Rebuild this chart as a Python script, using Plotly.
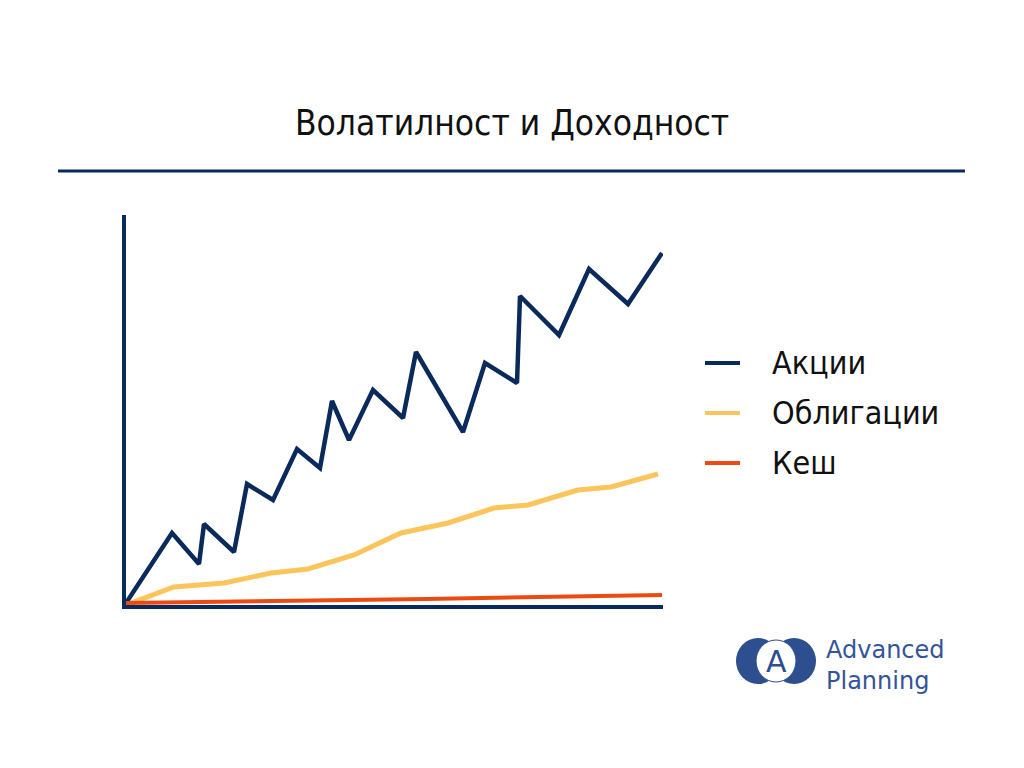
import plotly.graph_objs as go

# Data (arbitrary units)
stocks_x = [0, 46, 73, 78, 108, 121, 147, 171, 194, 206, 223, 247, 277, 290, 337, 359, 391, 394, 433, 463, 502, 536]
stocks_y = [2, 72, 41, 81, 53, 121, 105, 156, 137, 204, 165, 215, 187, 253, 173, 242, 222, 309, 270, 336, 301, 352]

bonds_x = [5, 48, 98, 145, 182, 228, 275, 322, 368, 402, 452, 485, 532]
bonds_y = [2, 18, 22, 32, 36, 50, 72, 82, 97, 100, 115, 118, 131]

cash_x = [0, 100, 300, 536]
cash_y = [2, 3, 6, 10]

names = ['Акции', 'Облигации', 'Кеш']
colors = ['#0b2a5c', '#fbc55c', '#eb4b12']

NAVY = '#0b2a5c'
FONT = "Liberation Sans Narrow, DejaVu Sans Condensed, sans-serif"

# page offset (body margin) and plot box in screen pixels
OFF = 8
L, R, T, B = 126, 663, 215, 605


def px(x):
    return (x - L) / (R - L)


def py(y):
    return (B - y) / (B - T)


fig = go.Figure()
for xs, ys, name, color, w in [(stocks_x, stocks_y, names[0], colors[0], 4.5),
                               (bonds_x, bonds_y, names[1], colors[1], 5),
                               (cash_x, cash_y, names[2], colors[2], 4)]:
    fig.add_trace(go.Scatter(x=xs, y=ys, mode='lines', name=name,
                             line=dict(color=color, width=w)))

fig.update_layout(
    width=1024, height=768,
    paper_bgcolor='white', plot_bgcolor='white',
    margin=dict(l=L - OFF, r=1024 - R + OFF, t=T - OFF, b=768 - B + OFF),
    showlegend=False,
    xaxis=dict(range=[0, 537], showgrid=False, zeroline=False, showticklabels=False,
               showline=True, linecolor=NAVY, linewidth=4, ticks=''),
    yaxis=dict(range=[0, 390], showgrid=False, zeroline=False, showticklabels=False,
               showline=True, linecolor=NAVY, linewidth=4, ticks=''),
)

# Title and rule
fig.add_annotation(text='Волатилност и Доходност', xref='paper', yref='paper',
                   x=px(512), y=py(123), xanchor='center', yanchor='middle',
                   showarrow=False, font=dict(family=FONT, size=35, color='#111111'))
fig.add_shape(type='line', xref='paper', yref='paper',
              x0=px(58), x1=px(965), y0=py(171), y1=py(171),
              line=dict(color=NAVY, width=3))

# Legend drawn by hand
for i, (name, color) in enumerate(zip(names, colors)):
    yy = py(363 + 50 * i)
    fig.add_shape(type='line', xref='paper', yref='paper',
                  x0=px(705), x1=px(740), y0=yy, y1=yy,
                  line=dict(color=color, width=4))
    fig.add_annotation(text=name, xref='paper', yref='paper',
                       x=px(770), y=yy, xanchor='left', yanchor='middle',
                       showarrow=False, font=dict(family=FONT, size=32, color='#111111'))

# Logo
LOGO = '#2d4f8f'
for cx in [758, 794]:
    fig.add_shape(type='circle', xref='paper', yref='paper',
                  x0=px(cx - 22), x1=px(cx + 22), y0=py(684), y1=py(638),
                  fillcolor=LOGO, line=dict(width=0), layer='above')
fig.add_shape(type='circle', xref='paper', yref='paper',
              x0=px(756), x1=px(796), y0=py(682), y1=py(640),
              fillcolor='white', line=dict(color=LOGO, width=1), layer='above')
fig.add_annotation(text='A', xref='paper', yref='paper',
                   x=px(776), y=py(661), xanchor='center', yanchor='middle',
                   showarrow=False, font=dict(family='DejaVu Sans', size=30, color=LOGO))
fig.add_annotation(text='Advanced<br>Planning', xref='paper', yref='paper', align='left',
                   x=px(824), y=py(665), xanchor='left', yanchor='middle',
                   showarrow=False, font=dict(family='DejaVu Sans', size=24, color='#34549a'))

fig.write_html("out.html")
